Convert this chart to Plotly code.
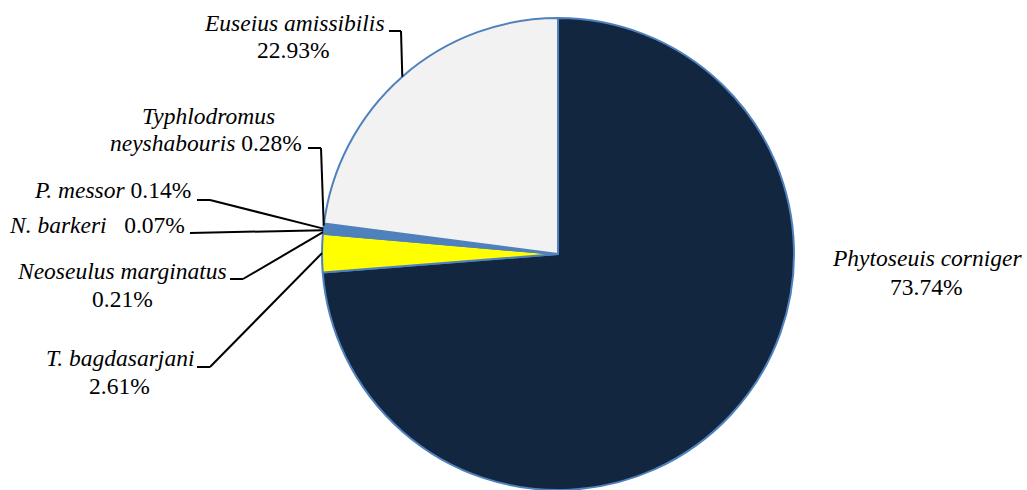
import numpy as np
import plotly.graph_objects as go

W, H = 1027, 490

# Data (clockwise from 12 o'clock)
species = ["Phytoseuis corniger", "T. bagdasarjani", "Neoseulus marginatus",
           "N. barkeri", "P. messor", "Typhlodromus neyshabouris", "Euseius amissibilis"]
percent = [73.74, 2.61, 0.21, 0.07, 0.14, 0.28, 22.93]
colors = ["#12263F", "#FFFF00", "#4F81BD", "#4F81BD", "#4F81BD", "#4F81BD", "#F2F2F2"]
pct_labels = ["73.74%", "2.61%", "0.21%", "0.07%", "0.14%", "0.28%", "22.93%"]

# Layout (pixels)
CX, CY, R = 558, 254, 236
FONT = "'Liberation Serif', 'Times New Roman', Tinos, 'DejaVu Serif', serif"
FS = 23.5


def px(x):
    return x / W


def py(y):
    return 1 - y / H


fig = go.Figure(go.Pie(
    values=percent, labels=species, sort=False, direction="clockwise", rotation=0,
    marker=dict(colors=colors, line=dict(color="#4F81BD", width=2)),
    textinfo="none", hoverinfo="label+percent", showlegend=False,
    domain=dict(x=[px(CX - R), px(CX + R)], y=[py(CY + R), py(CY - R)]),
))

# anchor points on the rim at each slice mid-angle
vals = np.array(percent)
cum = np.cumsum(vals) - vals / 2
ang = cum / vals.sum() * 2 * np.pi
ax_ = CX + R * np.sin(ang)
ay_ = CY - R * np.cos(ang)

anns = []


def text(x, y, s):
    anns.append(dict(x=px(x), y=py(y), xref="paper", yref="paper", text=s,
                     showarrow=False, xanchor="center", yanchor="middle",
                     font=dict(family=FONT, size=FS, color="black")))


def lines(pts):
    for (x0, y0), (x1, y1) in zip(pts[:-1], pts[1:]):
        fig.add_shape(type="line", xref="paper", yref="paper",
                      x0=px(x0), y0=py(y0), x1=px(x1), y1=py(y1),
                      line=dict(color="black", width=2))


# Phytoseuis corniger
text(927, 258, "<i>Phytoseuis corniger</i>")
text(926, 287, pct_labels[0])
# T. bagdasarjani
text(120, 358, "<i>T. bagdasarjani</i>")
text(119, 386, pct_labels[1])
lines([(197, 367), (210, 367), (ax_[1], ay_[1])])
# Neoseulus marginatus
text(122, 271, "<i>Neoseulus marginatus</i>")
text(122, 299, pct_labels[2])
lines([(230, 279), (243, 279), (ax_[2], ay_[2])])
# N. barkeri
text(97, 225, "<i>N. barkeri</i>   " + pct_labels[3])
lines([(190, 233), (ax_[3], ay_[3])])
# P. messor
text(112, 190, "<i>P. messor</i> " + pct_labels[4])
lines([(197, 200), (210, 200), (ax_[4], ay_[4])])
# Typhlodromus neyshabouris
text(208, 116, "<i>Typhlodromus</i>")
text(206, 143, "<i>neyshabouris</i> " + pct_labels[5])
lines([(308, 148), (321, 148), (ax_[5], ay_[5])])
# Euseius amissibilis
text(294, 23, "<i>Euseius amissibilis</i>")
text(293, 50, pct_labels[6])
lines([(389, 31), (401, 31), (ax_[6], ay_[6])])

fig.update_layout(width=W, height=H, margin=dict(l=0, r=0, t=0, b=0),
                  font=dict(family=FONT),
                  paper_bgcolor="white", plot_bgcolor="white", annotations=anns)
fig.write_html("out.html")
